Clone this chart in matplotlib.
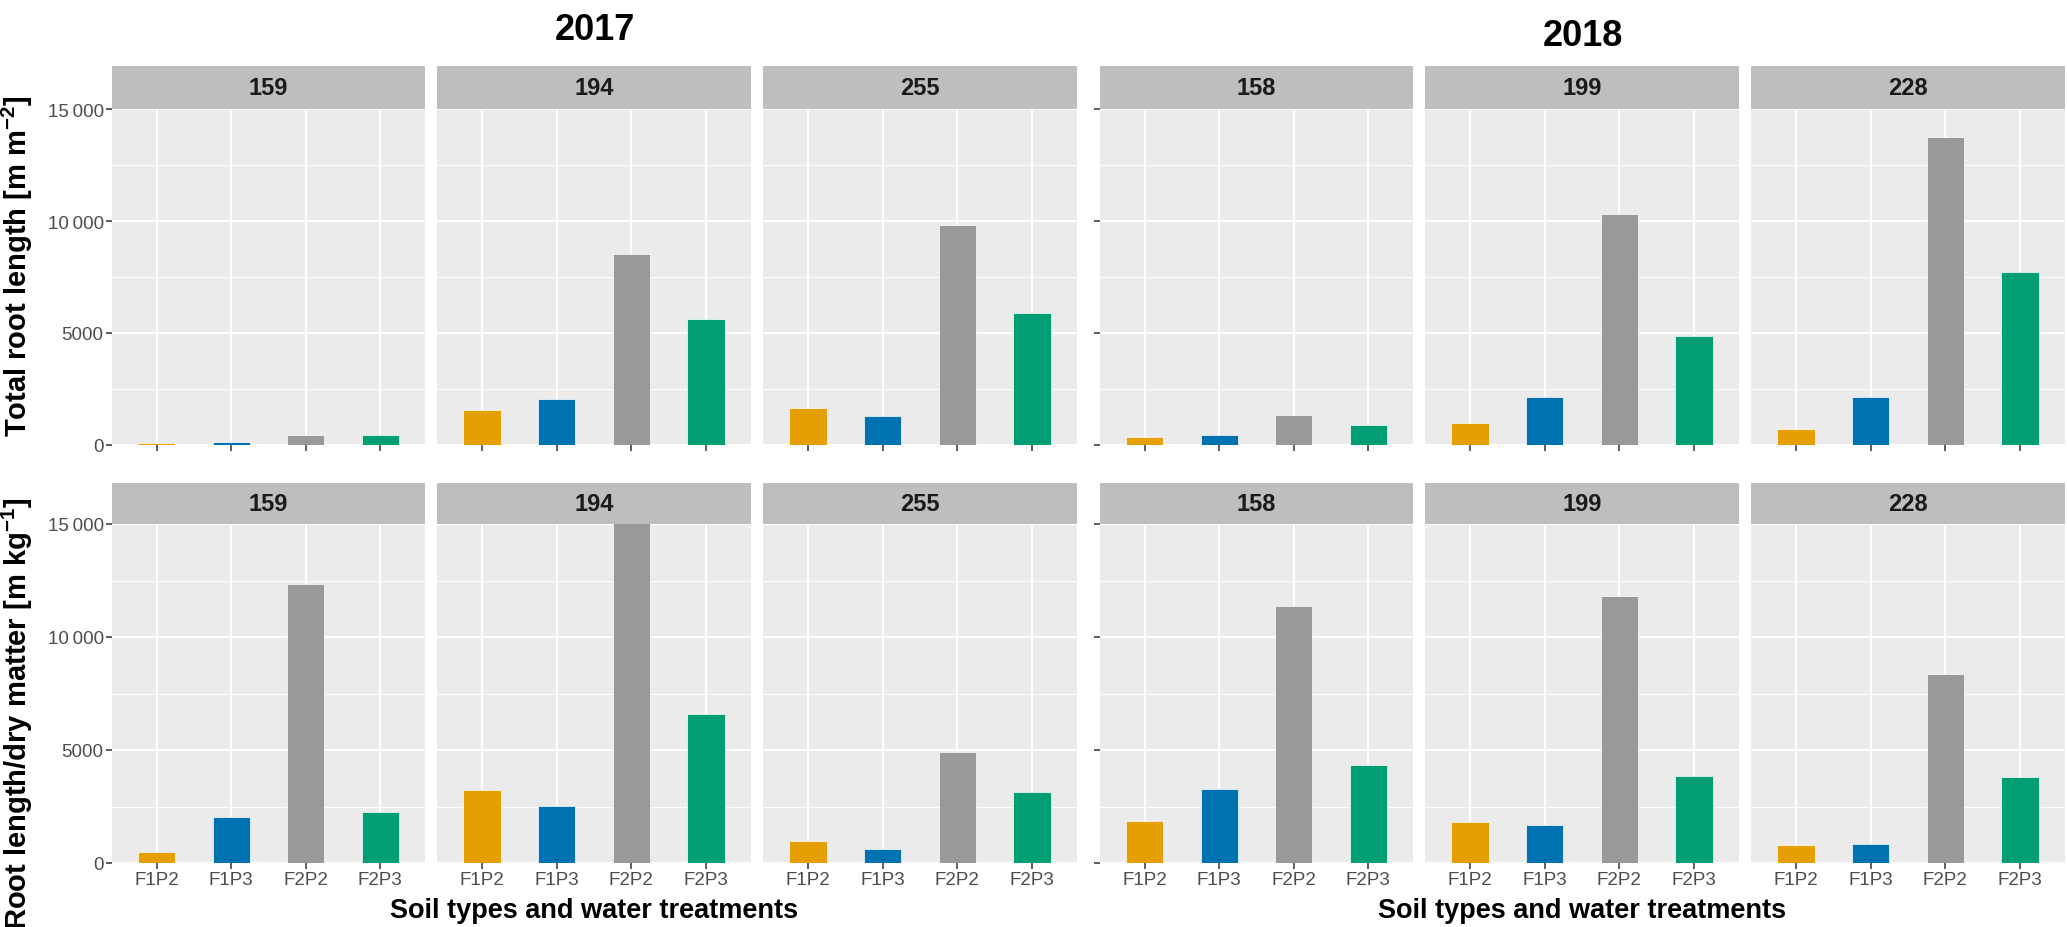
import matplotlib.pyplot as plt
from matplotlib.ticker import FixedLocator

plt.rcParams['font.family'] = ['Liberation Sans', 'DejaVu Sans']
plt.rcParams['mathtext.fontset'] = 'custom'
plt.rcParams['mathtext.rm'] = 'Liberation Sans'
plt.rcParams['mathtext.bf'] = 'Liberation Sans:bold'

# Data
treatments = ['F1P2', 'F1P3', 'F2P2', 'F2P3']
colors = ['#E69F00', '#0072B2', '#999999', '#009E73']

days_2017 = ['159', '194', '255']
days_2018 = ['158', '199', '228']

# total root length [m m-2], one list per sampling day
trl_2017 = [[104, 133, 430, 444],
            [1570, 2074, 8548, 5630],
            [1659, 1304, 9807, 5896]]
trl_2018 = [[340, 430, 1347, 888],
            [962, 2162, 10320, 4886],
            [711, 2132, 13740, 7744]]

# root length / dry matter [m kg-1]
rldm_2017 = [[487, 2022, 12357, 2259],
             [3233, 2539, 15800, 6614],
             [989, 620, 4901, 3130]]
rldm_2018 = [[1864, 3262, 11378, 4354],
             [1805, 1689, 11800, 3834],
             [800, 829, 8353, 3790]]

y_ticks = [0, 5000, 10000, 15000]
y_ticklabels = ['0', '5000', '10\u2009000', '15\u2009000']

# Layout in pixels
W, H = 2067, 928
fig = plt.figure(figsize=(W / 100, H / 100), dpi=100)


def px_axes(x0, y0, x1, y1):
    return fig.add_axes([x0 / W, 1 - y1 / H, (x1 - x0) / W, (y1 - y0) / H])


groups = [
    ('2017', days_2017, [trl_2017, rldm_2017],
     [(112, 425), (437, 751), (763, 1077)], True, 30),
    ('2018', days_2018, [trl_2018, rldm_2018],
     [(1100, 1413), (1425, 1739), (1751, 2065)], False, 37),
]
rows = [((67, 110), (110, 446)), ((484, 525), (525, 864))]

for year, days, datasets, cols, show_ylab, title_y in groups:
    for r, ((s0, s1), (p0, p1)) in enumerate(rows):
        for c, (x0, x1) in enumerate(cols):
            ax = px_axes(x0, p0, x1, p1)
            ax.set_facecolor('#EBEBEB')
            ax.set_axisbelow(True)
            ax.bar(range(len(treatments)), datasets[r][c], width=0.5,
                   color=colors, edgecolor='white', linewidth=0.5)
            ax.set_xlim(-0.6, 3.6)
            ax.set_ylim(0, 15000)
            ax.yaxis.set_major_locator(FixedLocator(y_ticks))
            ax.yaxis.set_minor_locator(FixedLocator([2500, 7500, 12500]))
            ax.set_xticks(range(len(treatments)))
            ax.grid(which='major', color='white', linewidth=1.5)
            ax.grid(which='minor', axis='y', color='white', linewidth=0.7)
            for sp in ax.spines.values():
                sp.set_visible(False)
            ax.tick_params(axis='x', length=4, width=1.1, color='#333333',
                           labelsize=13.5, labelcolor='#4D4D4D', pad=2)
            ax.tick_params(axis='y', which='minor', length=0)
            if r == 1:
                ax.set_xticklabels(treatments)
            else:
                ax.set_xticklabels([])
            if c == 0:
                ax.tick_params(axis='y', length=4, width=1.1, color='#333333',
                               labelsize=13.5, labelcolor='#4D4D4D', pad=2)
                if show_ylab:
                    ax.set_yticklabels(y_ticklabels)
                else:
                    ax.set_yticklabels([])
            else:
                ax.tick_params(axis='y', length=0)
                ax.set_yticklabels([])

            sax = px_axes(x0, s0, x1, s1)
            sax.set_facecolor('#BEBEBE')
            sax.set_xticks([])
            sax.set_yticks([])
            for sp in sax.spines.values():
                sp.set_visible(False)
            sax.text(0.5, 0.5, days[c], ha='center', va='center',
                     fontsize=17, fontweight='bold', color='#1A1A1A',
                     transform=sax.transAxes)

    xc = (cols[0][0] + cols[-1][1]) / 2
    fig.text(xc / W, 1 - title_y / H, year, ha='center', va='center',
             fontsize=26, fontweight='bold')
    fig.text(xc / W, 1 - 911 / H, 'Soil types and water treatments',
             ha='center', va='center', fontsize=19.5, fontweight='bold')

fig.text(17 / W, 1 - 266 / H, r'Total root length [m m$^{\mathbf{-2}}$]',
         rotation=90, ha='center', va='center', fontsize=21, fontweight='bold')
fig.text(17 / W, 1 - 714 / H, r'Root length/dry matter [m kg$^{\mathbf{-1}}$]',
         rotation=90, ha='center', va='center', fontsize=21, fontweight='bold')

fig.savefig('out.png', dpi=100)
